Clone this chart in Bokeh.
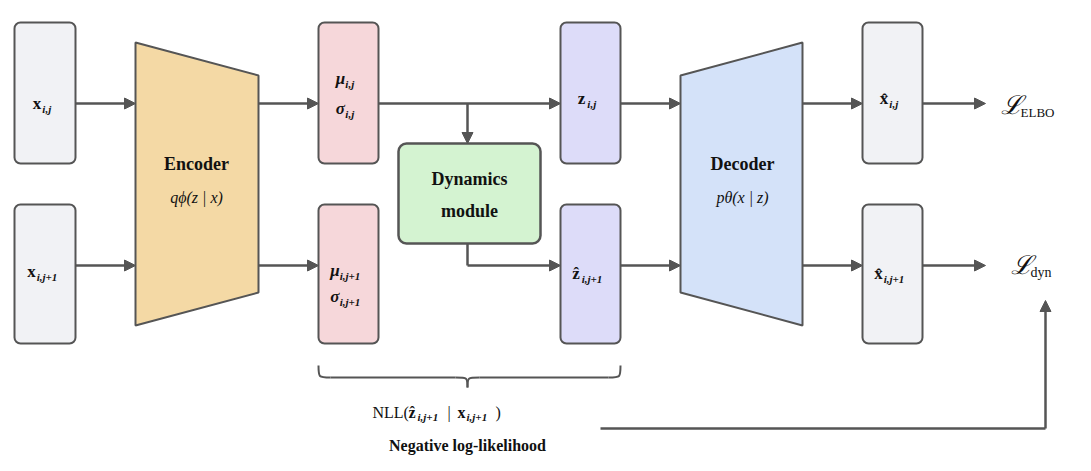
from bokeh.plotting import figure
from bokeh.models import Range1d, Arrow, NormalHead
from bokeh.core.properties import value
from bokeh.embed import file_html
from bokeh.resources import INLINE

# boxes: left, right, top, bottom, fill
box_names = ["x1", "x2", "mu1", "mu2", "z1", "z2", "xh1", "xh2"]
box_left = [14, 14, 318, 318, 560, 560, 862, 862]
box_right = [75, 75, 378, 378, 620, 620, 922, 922]
box_top = [22, 204, 22, 204, 22, 204, 22, 204]
box_bottom = [163, 343, 163, 343, 163, 343, 163, 343]
box_fill = ["#f1f2f5", "#f1f2f5", "#f6d7da", "#f6d7da", "#dddcf9", "#dddcf9", "#f1f2f5", "#f1f2f5"]

SERIF = "Liberation Serif"
GREY = "#555555"

p = figure(width=1075, height=455, x_range=Range1d(0, 1075), y_range=Range1d(455, 0),
           output_backend="svg", toolbar_location=None, min_border=0)
p.axis.visible = False
p.grid.visible = False
p.outline_line_color = None

p.quad(left=box_left, right=box_right, top=box_top, bottom=box_bottom,
       fill_color=box_fill, line_color=GREY, line_width=2, border_radius=6)

# encoder / decoder trapezoids
p.patch([135, 258, 258, 135], [42, 75, 292, 325], fill_color="#f4d9a5", line_color=GREY, line_width=2)
p.patch([680, 802, 802, 680], [75, 42, 325, 292], fill_color="#d4e2f9", line_color=GREY, line_width=2)

# dynamics module
p.quad(left=[398], right=[540], top=[143], bottom=[243], fill_color="#d4f3d1",
       line_color=GREY, line_width=2.5, border_radius=8)


def txt(x, y, s, size=15, style="normal", align="center"):
    p.text(x=[x], y=[y], text=[s], text_font=value(SERIF), text_font_size=f"{size}px",
           text_font_style=style, text_align=align, text_baseline="middle", text_color="#111111")


def sym(x, y, main, sub, size=17, mstyle="bold"):
    w = len(main.replace("\u0302", "")) * size * 0.5
    sw = len(sub) * size * 0.33
    x0 = x - (w + sw) / 2
    txt(x0, y, main, size, mstyle, "left")
    txt(x0 + w + 1, y + 5, sub, int(size * 0.68), "bold italic", "left")


sym(45, 103, "x", "i,j")
sym(45, 271, "x", "i,j+1")
sym(348, 78, "μ", "i,j", mstyle="bold italic")
sym(348, 108, "σ", "i,j", mstyle="bold italic")
sym(348, 270, "μ", "i,j+1", mstyle="bold italic")
sym(348, 296, "σ", "i,j+1", mstyle="bold italic")
sym(590, 98, "z", "i,j")
sym(590, 273, "ẑ", "i,j+1")
sym(892, 98, "x\u0302", "i,j")
sym(892, 273, "x\u0302", "i,j+1")

txt(196, 163, "Encoder", 18, "bold")
txt(196, 197, "qϕ(z | x)", 16, "italic")
txt(742, 163, "Decoder", 18, "bold")
txt(742, 197, "pθ(x | z)", 16, "italic")
txt(469, 178, "Dynamics", 18, "bold")
txt(469, 210, "module", 18, "bold")
txt(1000, 105, "ℒ", 26, "italic", "left")
txt(1020, 112, "ELBO", 13, "normal", "left")
txt(1010, 265, "ℒ", 26, "italic", "left")
txt(1030, 272, "dyn", 14, "normal", "left")

# NLL line pieces
txt(372, 412, "NLL(", 16, "normal", "left")
txt(408, 412, "ẑ", 16, "bold", "left")
txt(417, 416, "i,j+1", 11, "bold italic", "left")
txt(447, 412, "|", 16, "normal", "left")
txt(457, 412, "x", 16, "bold", "left")
txt(466, 416, "i,j+1", 11, "bold italic", "left")
txt(495, 412, ")", 16, "normal", "left")
txt(467, 445, "Negative log-likelihood", 16, "bold")

# connectors
segs = [(75, 103, 135, 103), (75, 265, 135, 265), (258, 103, 318, 103), (258, 265, 318, 265),
        (378, 103, 560, 103), (467, 103, 467, 143), (467, 265, 560, 265),
        (620, 103, 680, 103), (620, 265, 680, 265), (802, 103, 862, 103), (802, 265, 862, 265),
        (922, 103, 985, 103), (922, 265, 985, 265), (1045, 428, 1045, 300)]
for (xs, ys, xe, ye) in segs:
    p.add_layout(Arrow(end=NormalHead(size=11, fill_color=GREY, line_color=GREY),
                       x_start=xs, y_start=ys, x_end=xe, y_end=ye, line_color=GREY, line_width=2.5))
p.line([467, 467], [243, 265], line_color=GREY, line_width=2.5)
p.line([600, 1045], [428, 428], line_color=GREY, line_width=2.5)

# brace
p.bezier(x0=[318, 467, 467, 620], y0=[365, 387, 387, 365], x1=[330, 455, 479, 608], y1=[377, 377, 377, 377],
         cx0=[318, 467, 467, 620], cy0=[377, 377, 377, 377], cx1=[318, 467, 467, 620], cy1=[377, 377, 377, 377],
         line_color=GREY, line_width=2)
p.line([330, 455], [377, 377], line_color=GREY, line_width=2)
p.line([479, 608], [377, 377], line_color=GREY, line_width=2)

open("out.html", "w").write(file_html(p, INLINE))
